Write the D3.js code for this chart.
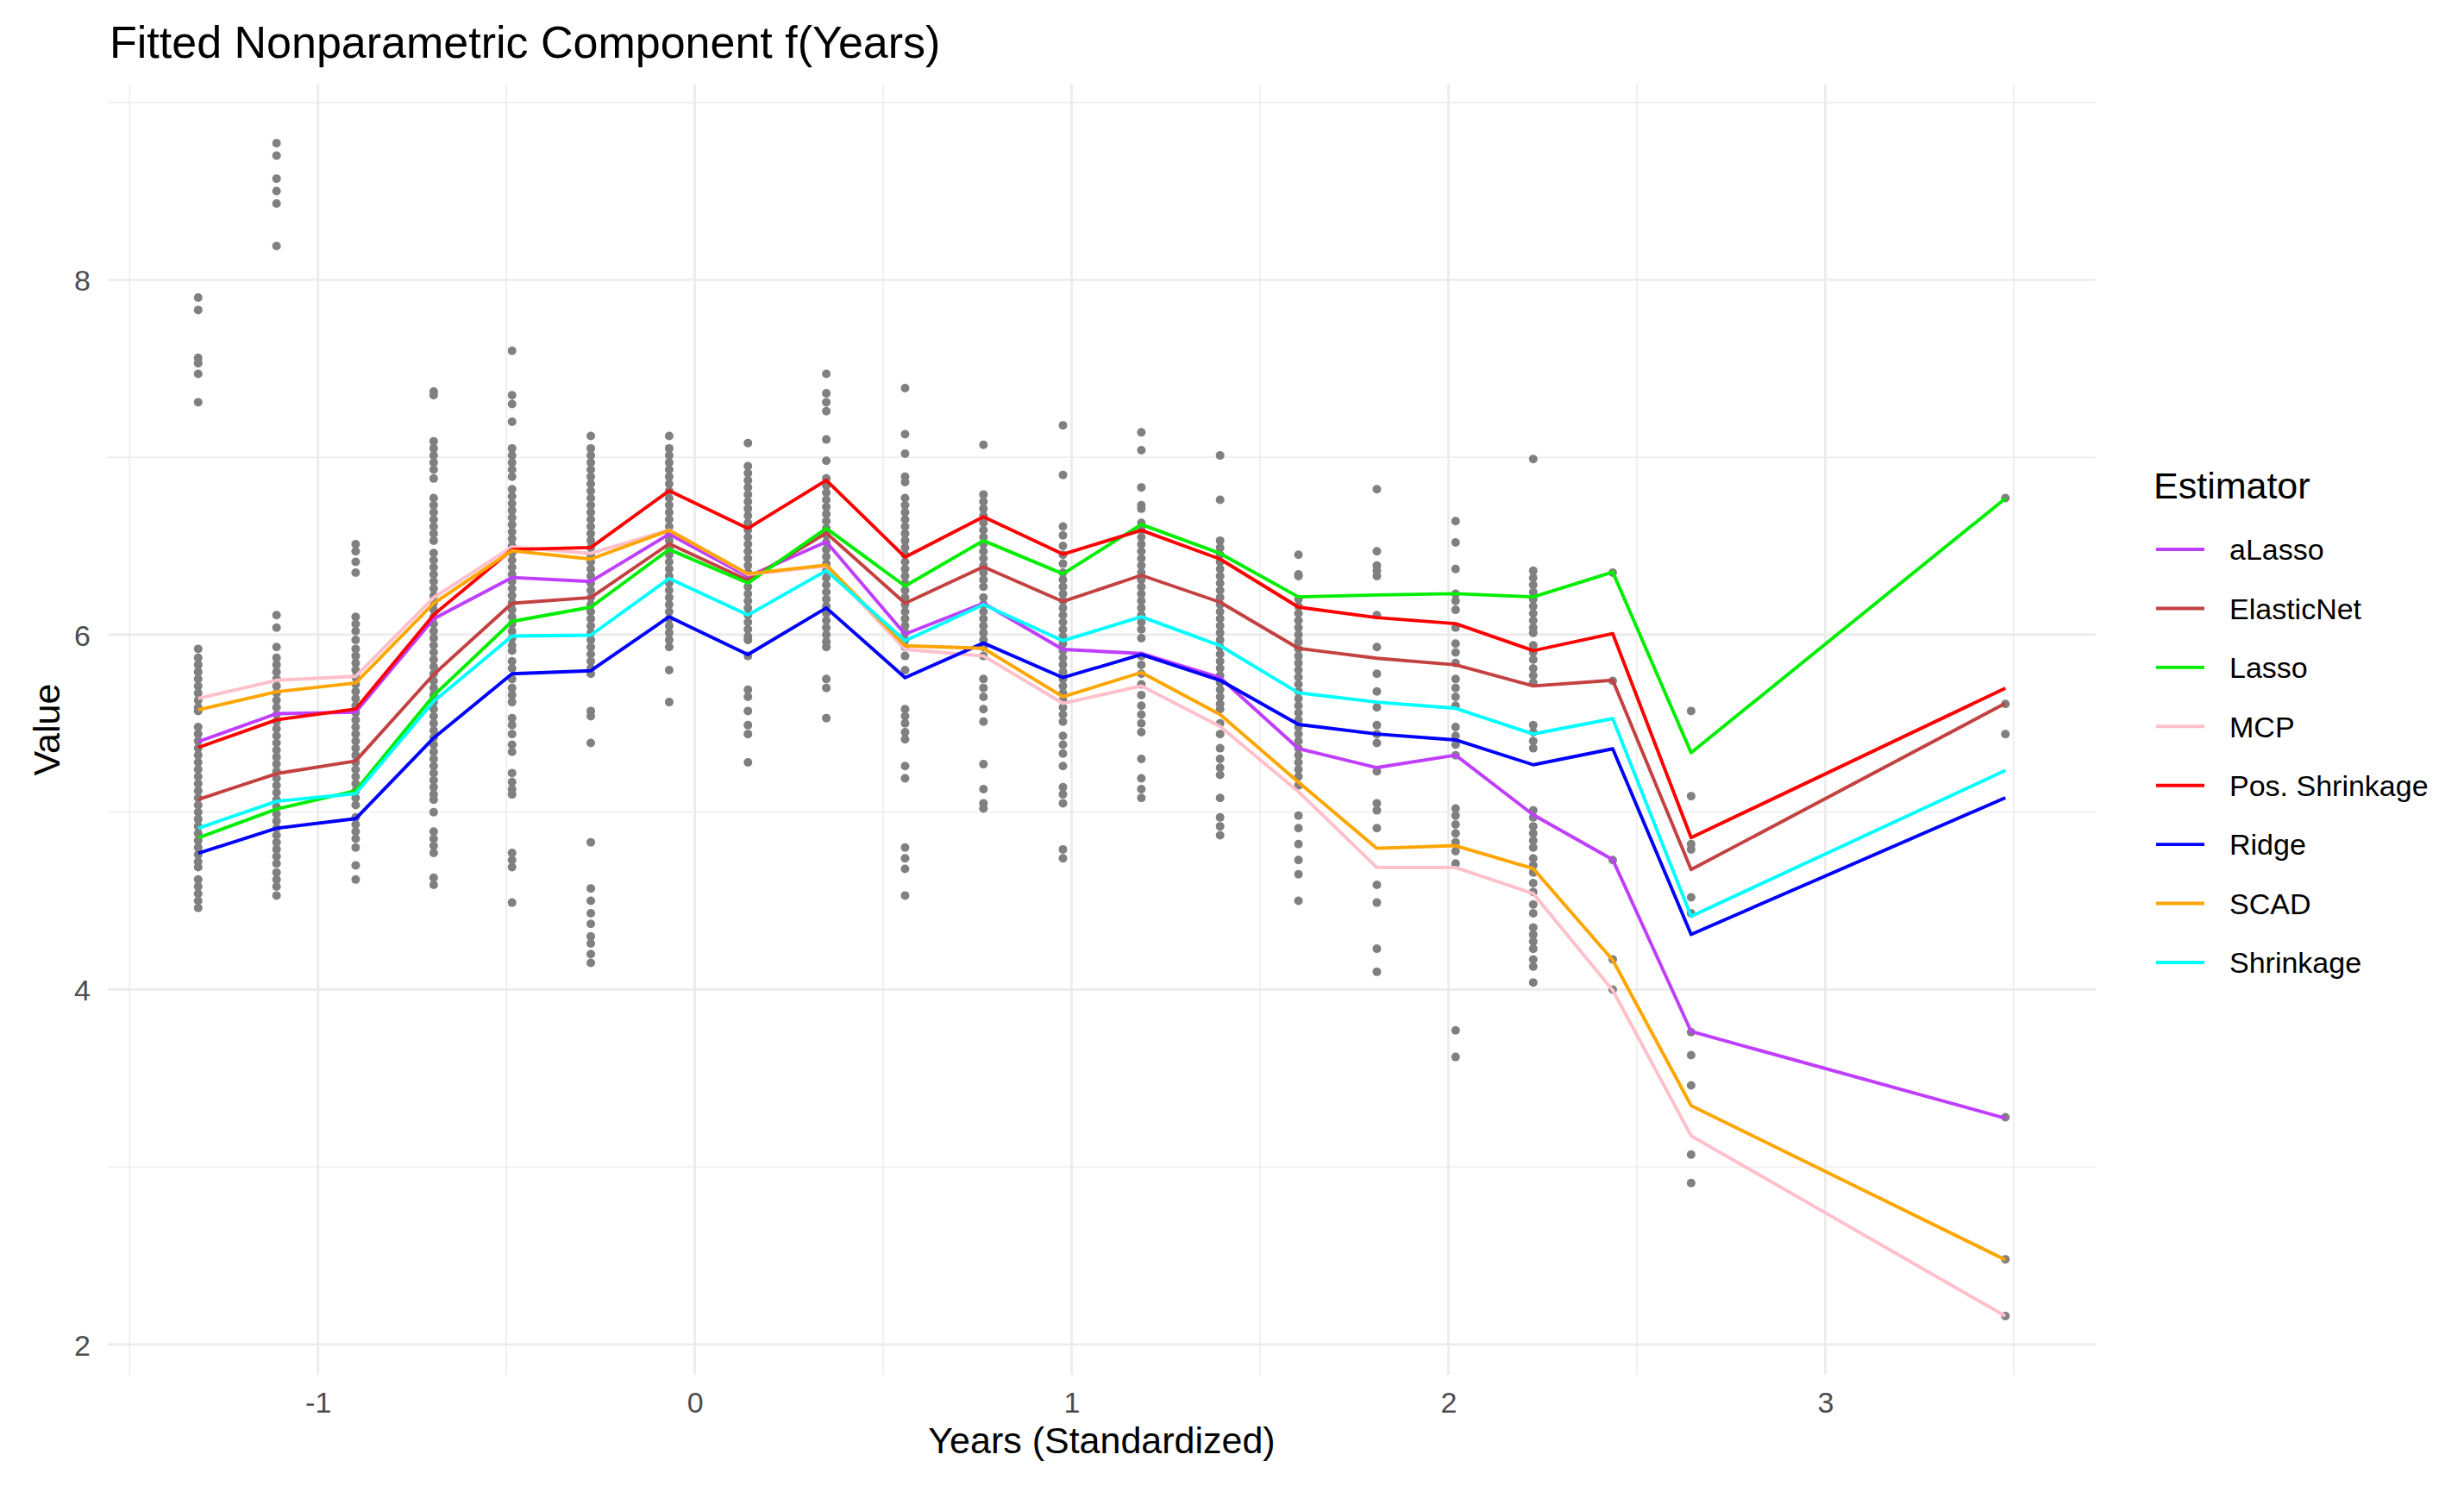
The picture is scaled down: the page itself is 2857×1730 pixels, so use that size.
<!DOCTYPE html>
<html>
<head>
<meta charset="utf-8">
<script src="https://cdn.jsdelivr.net/npm/d3@7/dist/d3.min.js"></script>
<style>
  html, body { margin: 0; padding: 0; background: #ffffff; }
  svg { display: block; font-family: "Liberation Sans", Arial, sans-serif; }
</style>
</head>
<body>
<svg id="chart" width="2857" height="1730"></svg>
<script>
// ---------------- DATA ----------------
const years = [-1.318, -1.11, -0.90, -0.693, -0.485, -0.276, -0.068, 0.141, 0.349, 0.558, 0.766,
               0.977, 1.185, 1.394, 1.602, 1.81, 2.019, 2.225, 2.436, 2.644, 3.478];

const estimators = ["aLasso", "ElasticNet", "Lasso", "MCP", "Pos. Shrinkage", "Ridge", "SCAD", "Shrinkage"];
const estimatorColors = ["#BF3EFF", "#C44141", "#00EE00", "#FFC0CB", "#FF0000", "#0000FF", "#FFA500", "#00FFFF"];

const aLasso      = [5.397, 5.555, 5.563, 6.090, 6.322, 6.300, 6.567, 6.328, 6.523, 6.003, 6.177, 5.917, 5.894, 5.758, 5.358, 5.251, 5.321, 4.985, 4.732, 3.764, 3.275];
const elasticNet  = [5.071, 5.217, 5.288, 5.776, 6.177, 6.209, 6.512, 6.307, 6.573, 6.177, 6.382, 6.187, 6.335, 6.183, 5.923, 5.867, 5.830, 5.711, 5.743, 4.676, 5.613];
const lasso       = [4.855, 5.017, 5.121, 5.657, 6.075, 6.155, 6.480, 6.291, 6.599, 6.274, 6.530, 6.343, 6.621, 6.458, 6.213, 6.224, 6.231, 6.213, 6.353, 5.335, 6.768];
const mcp         = [5.641, 5.743, 5.765, 6.209, 6.495, 6.458, 6.590, 6.339, 6.387, 5.917, 5.880, 5.613, 5.711, 5.483, 5.115, 4.688, 4.688, 4.541, 3.996, 3.176, 2.160];
const posShrink   = [5.364, 5.520, 5.581, 6.112, 6.480, 6.491, 6.811, 6.599, 6.870, 6.437, 6.664, 6.454, 6.588, 6.426, 6.155, 6.096, 6.062, 5.910, 6.006, 4.856, 5.698];
const ridge       = [4.768, 4.909, 4.963, 5.418, 5.780, 5.797, 6.101, 5.888, 6.151, 5.758, 5.953, 5.758, 5.888, 5.743, 5.494, 5.440, 5.407, 5.267, 5.357, 4.311, 5.081];
const scad        = [5.576, 5.678, 5.728, 6.177, 6.473, 6.426, 6.588, 6.343, 6.393, 5.938, 5.923, 5.650, 5.787, 5.550, 5.169, 4.796, 4.811, 4.682, 4.166, 3.346, 2.477];
const shrinkage   = [4.909, 5.061, 5.104, 5.624, 5.992, 5.997, 6.317, 6.111, 6.361, 5.966, 6.170, 5.966, 6.101, 5.938, 5.672, 5.620, 5.585, 5.440, 5.527, 4.413, 5.235];

// observed values, one list per year column (same order as `years`)
const observed = [
  [7.90, 7.83, 7.56, 7.53, 7.47, 7.31, 5.92, 5.87, 5.83, 5.79, 5.75, 5.71, 5.67, 5.63, 5.59, 5.57,
   5.48, 5.44, 5.40, 5.36, 5.32, 5.28, 5.24, 5.20, 5.16, 5.12, 5.08, 5.04, 5.00, 4.96, 4.92, 4.88, 4.84, 4.80, 4.76, 4.72, 4.69,
   4.62, 4.58, 4.54, 4.50, 4.46],
  [8.77, 8.70, 8.57, 8.50, 8.43, 8.19, 6.11, 6.04, 5.93, 5.87, 5.83, 5.79, 5.75, 5.71, 5.67, 5.63, 5.59, 5.55, 5.51, 5.47,
   5.43, 5.39, 5.35, 5.31, 5.27, 5.23, 5.19, 5.15, 5.11, 5.07, 5.03, 4.99, 4.95, 4.91, 4.87, 4.83, 4.79, 4.75, 4.71,
   4.66, 4.62, 4.58, 4.53],
  [6.51, 6.47, 6.41, 6.35, 6.10, 6.06, 6.02, 5.97, 5.92, 5.88, 5.84, 5.80, 5.76, 5.72, 5.68, 5.64, 5.60, 5.56, 5.52, 5.48,
   5.44, 5.40, 5.36, 5.32, 5.28, 5.24, 5.20, 5.16, 5.12, 5.08, 5.04, 4.97, 4.93, 4.89, 4.85, 4.80, 4.70, 4.62],
  [7.37, 7.35, 7.09, 7.05, 7.01, 6.97, 6.93, 6.88, 6.77, 6.73, 6.69, 6.65, 6.61, 6.57, 6.53, 6.46, 6.42, 6.38, 6.34, 6.30,
   6.26, 6.22, 6.18, 6.14, 6.10, 6.06, 6.02, 5.98, 5.94, 5.90, 5.86, 5.82, 5.78, 5.74, 5.70, 5.66, 5.62, 5.58, 5.54, 5.50,
   5.46, 5.42, 5.38, 5.34, 5.30, 5.26, 5.22, 5.18, 5.14, 5.10, 5.07, 5.00, 4.89, 4.85, 4.81, 4.77, 4.63, 4.59],
  [7.60, 7.35, 7.30, 7.20, 7.05, 7.01, 6.97, 6.93, 6.89, 6.82, 6.78, 6.74, 6.70, 6.66, 6.62, 6.58, 6.54, 6.50, 6.46, 6.42,
   6.38, 6.34, 6.30, 6.26, 6.22, 6.18, 6.14, 6.10, 6.06, 6.02, 5.98, 5.94, 5.91, 5.85, 5.81, 5.75, 5.70, 5.66, 5.62, 5.53,
   5.49, 5.44, 5.38, 5.34, 5.22, 5.17, 5.13, 5.10, 4.77, 4.73, 4.69, 4.49],
  [7.12, 7.05, 7.01, 6.97, 6.93, 6.89, 6.85, 6.81, 6.77, 6.73, 6.69, 6.65, 6.61, 6.57, 6.53, 6.49, 6.45, 6.41, 6.37, 6.33,
   6.29, 6.25, 6.21, 6.17, 6.13, 6.09, 6.05, 6.01, 5.97, 5.93, 5.89, 5.85, 5.81, 5.78, 5.57, 5.54, 5.39, 4.83, 4.57, 4.50,
   4.43, 4.37, 4.30, 4.26, 4.20, 4.15],
  [7.12, 7.05, 7.01, 6.97, 6.93, 6.89, 6.85, 6.81, 6.77, 6.73, 6.69, 6.65, 6.61, 6.57, 6.53, 6.49, 6.45, 6.41, 6.37, 6.33,
   6.29, 6.25, 6.21, 6.17, 6.13, 6.09, 6.05, 6.01, 5.97, 5.93, 5.80, 5.62],
  [7.08, 6.95, 6.91, 6.87, 6.83, 6.79, 6.75, 6.71, 6.67, 6.63, 6.59, 6.55, 6.51, 6.47, 6.43, 6.39, 6.35, 6.31, 6.27, 6.23,
   6.19, 6.15, 6.11, 6.07, 6.03, 5.99, 5.97, 5.88, 5.69, 5.65, 5.57, 5.49, 5.44, 5.28],
  [7.47, 7.36, 7.31, 7.26, 7.10, 6.98, 6.88, 6.84, 6.80, 6.76, 6.72, 6.68, 6.64, 6.60, 6.56, 6.52, 6.48, 6.44, 6.40, 6.36,
   6.32, 6.28, 6.24, 6.20, 6.16, 6.12, 6.08, 6.04, 6.00, 5.96, 5.93, 5.75, 5.70, 5.53],
  [7.39, 7.13, 7.02, 6.89, 6.86, 6.77, 6.73, 6.69, 6.65, 6.61, 6.57, 6.53, 6.49, 6.45, 6.41, 6.37, 6.33, 6.29, 6.25, 6.21,
   6.17, 6.13, 6.09, 6.05, 6.01, 5.97, 5.93, 5.88, 5.80, 5.58, 5.54, 5.50, 5.45, 5.41, 5.26, 5.19, 4.80, 4.74, 4.68, 4.53],
  [7.07, 6.79, 6.75, 6.71, 6.67, 6.63, 6.59, 6.55, 6.51, 6.47, 6.43, 6.39, 6.35, 6.31, 6.27, 6.21, 6.17, 6.13, 6.09, 6.05,
   6.01, 5.97, 5.93, 5.88, 5.75, 5.70, 5.65, 5.58, 5.51, 5.27, 5.13, 5.05, 5.02],
  [7.18, 6.90, 6.61, 6.56, 6.50, 6.45, 6.40, 6.35, 6.31, 6.27, 6.23, 6.19, 6.15, 6.11, 6.07, 6.03, 5.99, 5.95, 5.91, 5.87,
   5.83, 5.79, 5.75, 5.71, 5.67, 5.63, 5.59, 5.55, 5.51, 5.43, 5.38, 5.33, 5.26, 5.14, 5.10, 5.05, 4.79, 4.74],
  [7.14, 7.04, 6.83, 6.73, 6.71, 6.63, 6.59, 6.55, 6.51, 6.47, 6.43, 6.39, 6.35, 6.31, 6.27, 6.23, 6.19, 6.15, 6.11, 6.07,
   6.03, 5.98, 5.88, 5.83, 5.78, 5.72, 5.66, 5.60, 5.55, 5.50, 5.45, 5.30, 5.19, 5.13, 5.08],
  [7.01, 6.76, 6.53, 6.49, 6.45, 6.41, 6.37, 6.33, 6.29, 6.25, 6.21, 6.17, 6.13, 6.09, 6.05, 6.01, 5.97, 5.93, 5.89, 5.85,
   5.81, 5.77, 5.73, 5.69, 5.65, 5.61, 5.58, 5.50, 5.44, 5.36, 5.30, 5.25, 5.21, 5.08, 4.97, 4.92, 4.87],
  [6.45, 6.34, 6.33, 6.20, 6.16, 6.12, 6.08, 6.04, 6.00, 5.96, 5.92, 5.88, 5.84, 5.80, 5.76, 5.72, 5.68, 5.64, 5.60, 5.56,
   5.52, 5.48, 5.44, 5.40, 5.36, 5.32, 5.28, 5.24, 5.20, 5.15, 4.98, 4.91, 4.82, 4.73, 4.65, 4.50],
  [6.82, 6.47, 6.39, 6.36, 6.33, 6.11, 5.93, 5.78, 5.68, 5.59, 5.49, 5.44, 5.39, 5.23, 5.05, 5.01, 4.91, 4.59, 4.49, 4.23, 4.10],
  [6.64, 6.52, 6.37, 6.23, 6.19, 6.14, 6.04, 5.95, 5.90, 5.84, 5.75, 5.70, 5.65, 5.60, 5.48, 5.43, 5.38, 5.32, 5.02, 4.98,
   4.93, 4.88, 4.83, 4.78, 4.71, 3.77, 3.62],
  [6.99, 6.36, 6.32, 6.28, 6.24, 6.20, 6.16, 6.12, 6.08, 6.04, 6.01, 5.94, 5.90, 5.86, 5.81, 5.77, 5.73, 5.49, 5.45, 5.40,
   5.36, 5.01, 4.97, 4.92, 4.88, 4.84, 4.80, 4.74, 4.70, 4.66, 4.60, 4.55, 4.48, 4.43, 4.35, 4.31, 4.27, 4.23, 4.17, 4.13, 4.04],
  [6.35, 5.74, 4.73, 4.17, 4.00],
  [5.57, 5.09, 4.82, 4.79, 4.52, 4.43, 3.76, 3.63, 3.46, 3.07, 2.91],
  [6.77, 5.61, 5.44, 3.28, 2.48, 2.16]
];

const xTicks = [-1, 0, 1, 2, 3];
const xMinor = [-1.5, -0.5, 0.5, 1.5, 2.5, 3.5];
const yTicks = [2, 4, 6, 8];
const yMinor = [3, 5, 7, 9];

const titleText = "Fitted Nonparametric Component f(Years)";
const xTitle = "Years (Standardized)";
const yTitle = "Value";
const legendTitle = "Estimator";

// ---------------- BUILD ----------------
const seriesValues = [aLasso, elasticNet, lasso, mcp, posShrink, ridge, scad, shrinkage];
const series = estimators.map((name, i) => ({
  name, color: estimatorColors[i],
  values: years.map((x, j) => ({ x, y: seriesValues[i][j] }))
}));
const points = [];
observed.forEach((col, j) => col.forEach(v => points.push({ x: years[j], y: v })));

const panel = { left: 125, right: 2430, top: 98, bottom: 1594 };

// ggplot-like 5% expansion of the data range
const allY = points.map(p => p.y).concat(seriesValues.flat());
const xExt = d3.extent(years), yExt = d3.extent(allY);
const xPad = (xExt[1] - xExt[0]) * 0.05, yPad = (yExt[1] - yExt[0]) * 0.05;

const x = d3.scaleLinear().domain([xExt[0] - xPad, xExt[1] + xPad]).range([panel.left, panel.right]);
const y = d3.scaleLinear().domain([yExt[0] - yPad, yExt[1] + yPad]).range([panel.bottom, panel.top]);

const svg = d3.select("#chart");
svg.append("rect").attr("width", 2857).attr("height", 1730).attr("fill", "#ffffff");

const grid = svg.append("g");
// minor grid
grid.selectAll("line.xm").data(xMinor).join("line")
  .attr("x1", d => x(d)).attr("x2", d => x(d)).attr("y1", panel.top).attr("y2", panel.bottom)
  .attr("stroke", "#EBEBEB").attr("stroke-width", 1.4);
grid.selectAll("line.ym").data(yMinor).join("line")
  .attr("y1", d => y(d)).attr("y2", d => y(d)).attr("x1", panel.left).attr("x2", panel.right)
  .attr("stroke", "#EBEBEB").attr("stroke-width", 1.4);
// major grid
grid.selectAll("line.xM").data(xTicks).join("line")
  .attr("x1", d => x(d)).attr("x2", d => x(d)).attr("y1", panel.top).attr("y2", panel.bottom)
  .attr("stroke", "#EBEBEB").attr("stroke-width", 2.6);
grid.selectAll("line.yM").data(yTicks).join("line")
  .attr("y1", d => y(d)).attr("y2", d => y(d)).attr("x1", panel.left).attr("x2", panel.right)
  .attr("stroke", "#EBEBEB").attr("stroke-width", 2.6);

// axes (ticks hidden, labels only); plain hyphen-minus as in the reference
const plain = d => String(d);
const xAxis = d3.axisBottom(x).tickValues(xTicks).tickSize(0).tickPadding(0).tickFormat(plain);
const gx = svg.append("g").attr("transform", `translate(0,${panel.bottom})`).call(xAxis);
gx.select(".domain").remove();
gx.selectAll("text").attr("font-size", 34).attr("fill", "#4D4D4D")
  .attr("font-family", "Liberation Sans, Arial, sans-serif").attr("dy", null).attr("y", 44);

const yAxis = d3.axisLeft(y).tickValues(yTicks).tickSize(0).tickPadding(0).tickFormat(plain);
const gy = svg.append("g").attr("transform", `translate(${panel.left - 20},0)`).call(yAxis);
gy.select(".domain").remove();
gy.selectAll("text").attr("font-size", 34).attr("fill", "#4D4D4D")
  .attr("font-family", "Liberation Sans, Arial, sans-serif").attr("dy", "0.36em").attr("x", 0);

// points
svg.append("g").selectAll("circle").data(points).join("circle")
  .attr("cx", d => x(d.x)).attr("cy", d => y(d.y)).attr("r", 5)
  .attr("fill", "#808080");

// lines
const line = d3.line().x(d => x(d.x)).y(d => y(d.y));
svg.append("g").selectAll("path").data(series).join("path")
  .attr("d", d => line(d.values)).attr("fill", "none")
  .attr("stroke", d => d.color).attr("stroke-width", 3.9)
  .attr("stroke-linejoin", "round").attr("stroke-linecap", "butt");

// titles
svg.append("text").attr("x", 127).attr("y", 67).attr("font-size", 52).attr("fill", "#000")
  .text(titleText);
svg.append("text").attr("x", (panel.left + panel.right) / 2).attr("y", 1685)
  .attr("text-anchor", "middle").attr("font-size", 43).attr("fill", "#000").text(xTitle);
svg.append("text").attr("transform", `translate(69,${(panel.top + panel.bottom) / 2}) rotate(-90)`)
  .attr("text-anchor", "middle").attr("font-size", 43).attr("fill", "#000").text(yTitle);

// legend
const legend = svg.append("g");
legend.append("text").attr("x", 2497).attr("y", 578).attr("font-size", 43).attr("fill", "#000").text(legendTitle);
const legendY = d3.scalePoint().domain(estimators).range([637, 1116]);
const items = legend.selectAll("g.item").data(series).join("g").attr("class", "item")
  .attr("transform", d => `translate(0,${legendY(d.name)})`);
items.append("line").attr("x1", 2500).attr("x2", 2556).attr("y1", 0).attr("y2", 0)
  .attr("stroke", d => d.color).attr("stroke-width", 3.9);
items.append("text").attr("x", 2585).attr("y", 0).attr("dy", "0.36em").attr("font-size", 34)
  .attr("fill", "#000").text(d => d.name);
</script>
</body>
</html>
